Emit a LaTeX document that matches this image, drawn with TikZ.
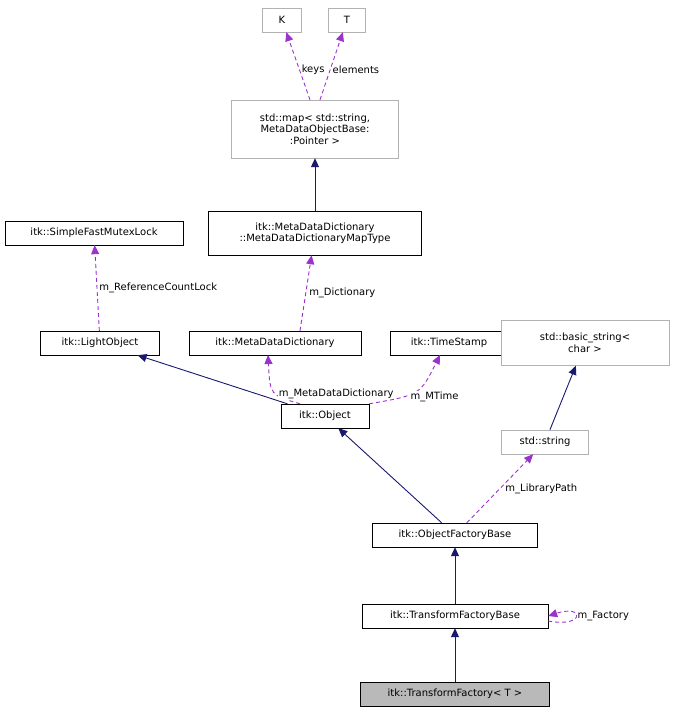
\documentclass[tikz,border=0pt]{standalone}
\usepackage{fontspec}
\setmainfont{DejaVu Sans}
\usetikzlibrary{arrows.meta}
\definecolor{navy}{RGB}{25,25,112}
\definecolor{memb}{RGB}{154,50,205}
\tikzset{
  cls/.style={draw=black,fill=white,inner sep=2pt,minimum height=24pt,font=\fontsize{10}{11.5}\selectfont,align=center},
  ext/.style={cls,draw=gray!60},
  inh/.style={draw=navy,line width=0.9pt,-{Triangle[length=9pt,width=8pt]}},
  use/.style={draw=memb,line width=0.9pt,dash pattern=on 4pt off 3pt,-{Triangle[length=9pt,width=8pt]}},
  lbl/.style={font=\fontsize{10}{11.5}\selectfont,fill=white,inner sep=1pt}
}
\begin{document}
\begin{tikzpicture}[x=1pt,y=-1pt]
      \useasboundingbox (0,0) rectangle (675,717);
      \node[ext,minimum width=39pt] (k) at (282,20) {K};
      \node[ext,minimum width=37pt] (t) at (347,20) {T};
      \node[ext,minimum width=167pt,minimum height=58pt] (map) at (315,129) {std::map\textless{} std::string,\\ MetaDataObjectBase:\\ :Pointer \textgreater};
      \node[cls,minimum width=213pt,minimum height=44pt] (mdt) at (315,233) {itk::MetaDataDictionary\\ ::MetaDataDictionaryMapType};
      \node[cls,minimum width=178pt] (sfml) at (94,233) {itk::SimpleFastMutexLock};
      \node[cls,minimum width=119pt] (lo) at (100,343) {itk::LightObject};
      \node[cls,minimum width=172pt] (mdd) at (275,343) {itk::MetaDataDictionary};
      \node[cls,minimum width=118pt] (ts) at (449,343) {itk::TimeStamp};
      \node[ext,minimum width=168pt,minimum height=45pt] (bs) at (585,343) {std::basic\_string\textless\\ char \textgreater};
      \node[cls,minimum width=88pt] (obj) at (325,416) {itk::Object};
      \node[ext,minimum width=87pt] (str) at (545,442) {std::string};
      \node[cls,minimum width=165pt] (ofb) at (455,535) {itk::ObjectFactoryBase};
      \node[cls,minimum width=186pt] (tfb) at (455,616) {itk::TransformFactoryBase};
      \node[cls,fill=gray!55,minimum width=189pt] (tf) at (455,694) {itk::TransformFactory\textless{} T \textgreater};
      % inheritance
      \draw[inh] (mdt) -- (map);
      \draw[inh] (obj) -- (lo);
      \draw[inh] (ofb) -- (obj);
      \draw[inh] (str) -- (bs);
      \draw[inh] (tfb) -- (ofb);
      \draw[inh] (tf) -- (tfb);
      % members
      \draw[use] (map.north) ++(-5,0) coordinate (m1) (m1) -- (k) node[lbl,pos=0.45,right=1pt] {keys};
      \draw[use] (map.north) ++(5,0) coordinate (m2) (m2) -- (t) node[lbl,pos=0.45,right=1pt] {elements};
      \draw[use] (mdd.north) ++(25,0) coordinate (d1) (d1) -- (mdt) node[lbl,midway,right=2pt] {m\_Dictionary};
      \draw[use] (lo) -- (sfml) node[lbl,midway,right=1pt] {m\_ReferenceCountLock};
      \draw[use] (obj.north) ++(-25,0) coordinate (o1) (o1) .. controls (270,395) .. (268,355) node[lbl,pos=0.4,right=1pt] {m\_MetaDataDictionary};
      \draw[use] (obj.north east) .. controls (420,395) .. (440,355) node[lbl,pos=0.3,right=6pt] {m\_MTime};
      \draw[use] (ofb) -- (str) node[lbl,midway,right=4pt] {m\_LibraryPath};
      \draw[use] (tfb.east) ++(0,5) coordinate (f1) (f1) .. controls (585,628) and (585,604) .. (tfb.east) node[lbl,right=28pt] {m\_Factory};
\end{tikzpicture}
\end{document}
